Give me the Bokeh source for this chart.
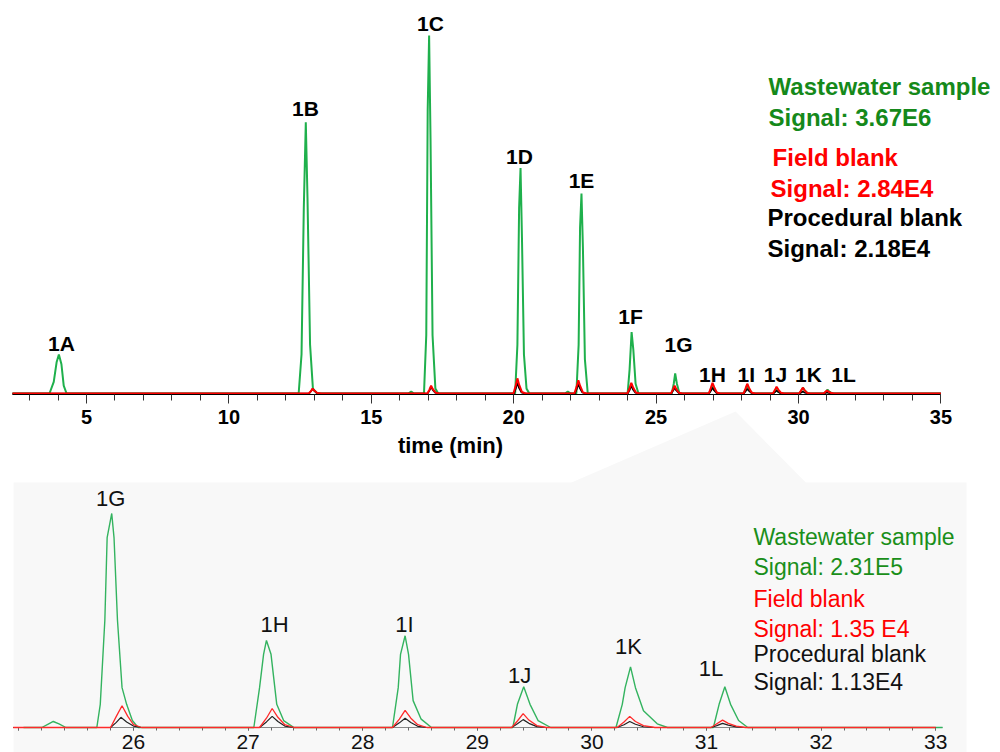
from bokeh.plotting import figure
from bokeh.models import Range1d, LinearAxis, SingleIntervalTicker, ColumnDataSource
from bokeh.core.properties import value
from bokeh.embed import file_html
from bokeh.resources import INLINE

FONT = "Liberation Sans"

# ---------------- full chromatogram (signal, x 1e6) ----------------
top_green_t = [2.40, 3.70, 3.85, 3.95, 4.03, 4.12, 4.20, 4.30,
               12.45, 12.55, 12.63, 12.70, 12.76, 12.85, 12.95, 13.10,
               16.30, 16.40, 16.50,
               16.85, 16.93, 16.98, 17.03, 17.08, 17.15, 17.25, 17.35,
               20.05, 20.13, 20.19, 20.24, 20.29, 20.36, 20.45, 20.55,
               21.80, 21.90, 22.00,
               22.20, 22.28, 22.33, 22.38, 22.43, 22.50, 22.60,
               24.00, 24.07, 24.14, 24.20, 24.28, 24.38,
               25.55, 25.62, 25.67, 25.73, 25.82,
               26.85, 26.93, 26.98, 27.04, 27.15,
               28.08, 28.15, 28.20, 28.26, 28.38,
               29.10, 29.17, 29.22, 29.28, 29.38,
               30.03, 30.10, 30.16, 30.22, 30.34,
               30.90, 30.97, 31.02, 31.08, 31.20,
               35.00]
top_green_y = [0, 0, 0.12, 0.32, 0.40, 0.30, 0.08, 0,
               0, 0.40, 1.90, 2.78, 2.00, 0.50, 0.05, 0,
               0, 0.02, 0,
               0, 0.60, 2.90, 3.67, 2.60, 0.60, 0.05, 0,
               0, 0.50, 1.90, 2.31, 1.60, 0.40, 0.05, 0,
               0, 0.02, 0,
               0, 0.50, 1.70, 2.05, 1.50, 0.35, 0,
               0, 0.25, 0.63, 0.45, 0.10, 0,
               0, 0.10, 0.205, 0.10, 0,
               0, 0.04, 0.085, 0.04, 0,
               0, 0.05, 0.09, 0.045, 0,
               0, 0.02, 0.04, 0.02, 0,
               0, 0.03, 0.06, 0.03, 0,
               0, 0.02, 0.04, 0.02, 0,
               0]

top_red_t = [2.40,
             12.80, 12.88, 12.94, 13.00, 13.10, 13.25,
             16.97, 17.04, 17.10, 17.16, 17.26, 17.40,
             19.99, 20.07, 20.13, 20.19, 20.29, 20.42,
             22.13, 22.21, 22.27, 22.33, 22.43, 22.56,
             23.99, 24.07, 24.13, 24.19, 24.29, 24.42,
             25.52, 25.59, 25.65, 25.71, 25.80, 25.92,
             26.85, 26.92, 26.98, 27.04, 27.13, 27.25,
             28.07, 28.14, 28.20, 28.26, 28.35, 28.47,
             29.10, 29.17, 29.23, 29.29, 29.38, 29.50,
             30.02, 30.09, 30.15, 30.21, 30.30, 30.42,
             30.88, 30.94, 31.00, 31.06, 31.15, 31.26,
             35.00]
top_red_y = [0,
             0, 0.025, 0.05, 0.03, 0.005, 0,
             0, 0.04, 0.08, 0.045, 0.008, 0,
             0, 0.08, 0.155, 0.09, 0.015, 0,
             0, 0.07, 0.135, 0.08, 0.012, 0,
             0, 0.055, 0.11, 0.065, 0.01, 0,
             0, 0.04, 0.08, 0.045, 0.008, 0,
             0, 0.055, 0.11, 0.065, 0.01, 0,
             0, 0.05, 0.10, 0.06, 0.01, 0,
             0, 0.035, 0.07, 0.04, 0.008, 0,
             0, 0.03, 0.06, 0.035, 0.006, 0,
             0, 0.015, 0.03, 0.018, 0.004, 0,
             0]

top_black_t = [2.40,
               12.82, 12.89, 12.94, 12.99, 13.08, 13.20,
               16.98, 17.05, 17.10, 17.15, 17.24, 17.36,
               20.01, 20.08, 20.13, 20.18, 20.27, 20.39,
               22.15, 22.22, 22.27, 22.32, 22.41, 22.53,
               24.01, 24.08, 24.13, 24.18, 24.27, 24.39,
               25.53, 25.60, 25.65, 25.70, 25.79, 25.91,
               26.86, 26.93, 26.98, 27.03, 27.12, 27.24,
               28.08, 28.15, 28.20, 28.25, 28.34, 28.46,
               29.11, 29.18, 29.23, 29.28, 29.37, 29.49,
               30.03, 30.10, 30.15, 30.20, 30.29, 30.41,
               30.88, 30.95, 31.00, 31.05, 31.14, 31.26,
               35.00]
top_black_y = [0,
               0, 0.025, 0.05, 0.028, 0.005, 0,
               0, 0.035, 0.07, 0.038, 0.007, 0,
               0, 0.055, 0.11, 0.06, 0.011, 0,
               0, 0.05, 0.10, 0.055, 0.01, 0,
               0, 0.04, 0.08, 0.044, 0.008, 0,
               0, 0.03, 0.06, 0.033, 0.006, 0,
               0, 0.03, 0.06, 0.033, 0.006, 0,
               0, 0.025, 0.05, 0.028, 0.005, 0,
               0, 0.015, 0.03, 0.017, 0.003, 0,
               0, 0.01, 0.02, 0.011, 0.002, 0,
               0, 0.005, 0.01, 0.006, 0.001, 0,
               0]

top_peak_names = ["1A", "1B", "1C", "1D", "1E", "1F", "1G", "1H", "1I", "1J", "1K", "1L"]
top_label_t = [4.12, 12.69, 17.08, 20.20, 22.38, 24.10, 25.79, 26.98, 28.17, 29.19, 30.35, 31.58]
top_label_y = [0.51, 2.92, 3.79, 2.43, 2.18, 0.79, 0.50, 0.19, 0.19, 0.19, 0.19, 0.19]

top_legend_text = ["Wastewater sample", "Signal: 3.67E6", "Field blank", "Signal: 2.84E4",
                   "Procedural blank", "Signal: 2.18E4"]
top_legend_color = ["#15891a", "#15891a", "#ff0000", "#ff0000", "#000000", "#000000"]
top_legend_t = [28.95, 28.95, 29.09, 29.02, 28.91, 28.91]
top_legend_y = [3.142, 2.824, 2.414, 2.101, 1.799, 1.491]

# ---------------- zoomed region 25-33 min (signal, x 1e5) ----------------
bot_green_t = [25.04, 25.20, 25.26, 25.30, 25.35, 25.41,
               25.68, 25.71, 25.75, 25.77, 25.81, 25.83, 25.86, 25.90, 25.94, 25.99, 26.04,
               27.05, 27.10, 27.135, 27.16, 27.20, 27.25, 27.31, 27.40,
               28.26, 28.31, 28.33, 28.37, 28.40, 28.44, 28.51, 28.60,
               29.31, 29.35, 29.405, 29.46, 29.53, 29.64,
               30.21, 30.265, 30.29, 30.337, 30.38, 30.45, 30.57, 30.66,
               31.06, 31.11, 31.16, 31.21, 31.28, 31.36,
               33.06]
bot_green_y = [0, 0, 0.04, 0.065, 0.04, 0,
               0, 0.25, 1.16, 2.05, 2.31, 2.05, 1.16, 0.43, 0.25, 0.075, 0,
               0, 0.43, 0.79, 0.94, 0.79, 0.25, 0.075, 0,
               0, 0.43, 0.79, 0.99, 0.79, 0.29, 0.09, 0,
               0, 0.25, 0.44, 0.25, 0.075, 0,
               0, 0.25, 0.43, 0.655, 0.43, 0.18, 0.04, 0,
               0, 0.25, 0.44, 0.25, 0.075, 0,
               0]

bot_red_t = [24.95,
             25.80, 25.85, 25.90, 25.95, 26.00, 26.07,
             27.10, 27.16, 27.21, 27.26, 27.32, 27.40,
             28.26, 28.32, 28.37, 28.42, 28.48, 28.56,
             29.30, 29.35, 29.40, 29.45, 29.52, 29.60,
             30.22, 30.28, 30.33, 30.38, 30.45, 30.55,
             31.04, 31.09, 31.14, 31.19, 31.26, 31.34,
             33.00]
bot_red_y = [0,
             0, 0.12, 0.235, 0.12, 0.03, 0,
             0, 0.10, 0.205, 0.11, 0.03, 0,
             0, 0.09, 0.185, 0.10, 0.03, 0,
             0, 0.07, 0.15, 0.08, 0.02, 0,
             0, 0.06, 0.12, 0.065, 0.02, 0,
             0, 0.04, 0.08, 0.045, 0.015, 0,
             0]

bot_black_t = [24.95,
               25.80, 25.85, 25.89, 25.94, 26.00, 26.07,
               27.10, 27.16, 27.21, 27.26, 27.32, 27.40,
               28.26, 28.32, 28.37, 28.42, 28.48, 28.56,
               29.30, 29.35, 29.40, 29.45, 29.52, 29.60,
               30.22, 30.28, 30.33, 30.38, 30.45, 30.55,
               31.04, 31.09, 31.14, 31.19, 31.26, 31.34,
               33.00]
bot_black_y = [0,
               0, 0.055, 0.11, 0.06, 0.015, 0,
               0, 0.06, 0.12, 0.065, 0.015, 0,
               0, 0.05, 0.10, 0.055, 0.013, 0,
               0, 0.04, 0.085, 0.045, 0.01, 0,
               0, 0.03, 0.065, 0.035, 0.008, 0,
               0, 0.02, 0.045, 0.025, 0.006, 0,
               0]

bot_peak_names = ["1G", "1H", "1I", "1J", "1K", "1L"]
bot_label_t = [25.80, 27.23, 28.365, 29.37, 30.32, 31.04]
bot_label_y = [2.472, 1.117, 1.117, 0.561, 0.869, 0.637]

bot_legend_text = ["Wastewater sample", "Signal: 2.31E5", "Field blank", "Signal: 1.35 E4",
                   "Procedural blank", "Signal: 1.13E4"]
bot_legend_color = ["#1a8f1a", "#1a8f1a", "#ff0000", "#ff0000", "#111111", "#111111"]
bot_legend_t = [31.41, 31.41, 31.41, 31.41, 31.41, 31.41]
bot_legend_y = [2.051, 1.732, 1.387, 1.063, 0.793, 0.486]

# ---------------- figure ----------------
p = figure(width=1000, height=752,
           x_range=Range1d(1.9803, 37.0927), y_range=Range1d(-3.67975, 4.02825),
           x_axis_type=None, y_axis_type=None,
           toolbar_location=None, output_backend="svg",
           min_border=0, outline_line_color=None,
           background_fill_color="white", border_fill_color="white")
p.extra_x_ranges = {"xb": Range1d(24.8394, 33.5654)}
p.extra_y_ranges = {"yb": Range1d(-0.26985, 7.8472)}

BG = "#f8f8f8"
# zoom panel background and connector
p.quad(left=[24.953], right=[33.269], bottom=[-0.27], top=[2.6445],
       x_range_name="xb", y_range_name="yb",
       fill_color=BG, line_color=None, level="image")
p.patch(x=[27.79, 21.89, 30.32], y=[-0.1845, -0.93, -0.93],
        fill_color=BG, line_color=None, level="image")

# top axis
ax_top = LinearAxis(ticker=SingleIntervalTicker(interval=5, num_minor_ticks=5),
                    fixed_location=-0.015, bounds=(2.4, 35))
ax_top.axis_line_color = "black"
ax_top.axis_line_width = 1
ax_top.major_tick_line_color = "#333333"
ax_top.minor_tick_line_color = "#333333"
ax_top.major_tick_in = 0
ax_top.major_tick_out = 9
ax_top.minor_tick_in = 0
ax_top.minor_tick_out = 6
ax_top.major_label_text_font = FONT
ax_top.major_label_text_font_size = "20px"
ax_top.major_label_text_font_style = "bold"
ax_top.major_label_text_color = "black"
ax_top.major_label_standoff = 6
p.add_layout(ax_top, "below")

# bottom axis
ax_bot = LinearAxis(x_range_name="xb", y_range_name="yb",
                    ticker=SingleIntervalTicker(interval=1, num_minor_ticks=5),
                    fixed_location=0, bounds=(24.95, 33.06))
ax_bot.level = "underlay"
ax_bot.axis_line_color = "#888888"
ax_bot.axis_line_width = 1
ax_bot.major_tick_line_color = "#666666"
ax_bot.minor_tick_line_color = "#666666"
ax_bot.major_tick_in = 0
ax_bot.major_tick_out = 3
ax_bot.minor_tick_in = 0
ax_bot.minor_tick_out = 3
ax_bot.major_label_text_font = FONT
ax_bot.major_label_text_font_size = "21px"
ax_bot.major_label_text_font_style = "normal"
ax_bot.major_label_text_color = "#111111"
ax_bot.major_label_standoff = 5
ax_bot.major_label_overrides = {25: ""}
p.add_layout(ax_bot, "below")

# top traces
p.line(top_green_t, top_green_y, line_color="#1fb04c", line_width=2)
p.line(top_black_t, top_black_y, line_color="#000000", line_width=1.6)
p.line(top_red_t, top_red_y, line_color="#ff0000", line_width=2)

# bottom traces
p.line(bot_green_t, bot_green_y, line_color="#33b35f", line_width=1.4,
       x_range_name="xb", y_range_name="yb")
p.line(bot_black_t, bot_black_y, line_color="#222222", line_width=1.2,
       x_range_name="xb", y_range_name="yb")
p.line(bot_red_t, bot_red_y, line_color="#ff2a2a", line_width=1.3,
       x_range_name="xb", y_range_name="yb")

# peak labels
src_tl = ColumnDataSource(dict(x=top_label_t, y=top_label_y, text=top_peak_names))
p.text(x="x", y="y", text="text", source=src_tl, text_font=value(FONT),
       text_font_size="21px", text_font_style="bold", text_color="black",
       text_align="center", text_baseline="middle")

src_bl = ColumnDataSource(dict(x=bot_label_t, y=bot_label_y, text=bot_peak_names))
p.text(x="x", y="y", text="text", source=src_bl, text_font=value(FONT),
       text_font_size="22px", text_font_style="normal", text_color="#111111",
       text_align="center", text_baseline="middle",
       x_range_name="xb", y_range_name="yb")

# legends
src_tleg = ColumnDataSource(dict(x=top_legend_t, y=top_legend_y, text=top_legend_text,
                                 color=top_legend_color))
p.text(x="x", y="y", text="text", text_color="color", source=src_tleg,
       text_font=value(FONT), text_font_size="24px", text_font_style="bold",
       text_align="left", text_baseline="middle")

src_bleg = ColumnDataSource(dict(x=bot_legend_t, y=bot_legend_y, text=bot_legend_text,
                                 color=bot_legend_color))
p.text(x="x", y="y", text="text", text_color="color", source=src_bleg,
       text_font=value(FONT), text_font_size="23px", text_font_style="normal",
       text_align="left", text_baseline="middle",
       x_range_name="xb", y_range_name="yb")

# axis title of the full chromatogram
p.text(x=[17.78], y=[-0.538], text=["time (min)"], text_font=value(FONT),
       text_font_size="22px", text_font_style="bold", text_color="black",
       text_align="center", text_baseline="middle")

open("out.html", "w").write(file_html(p, INLINE))
